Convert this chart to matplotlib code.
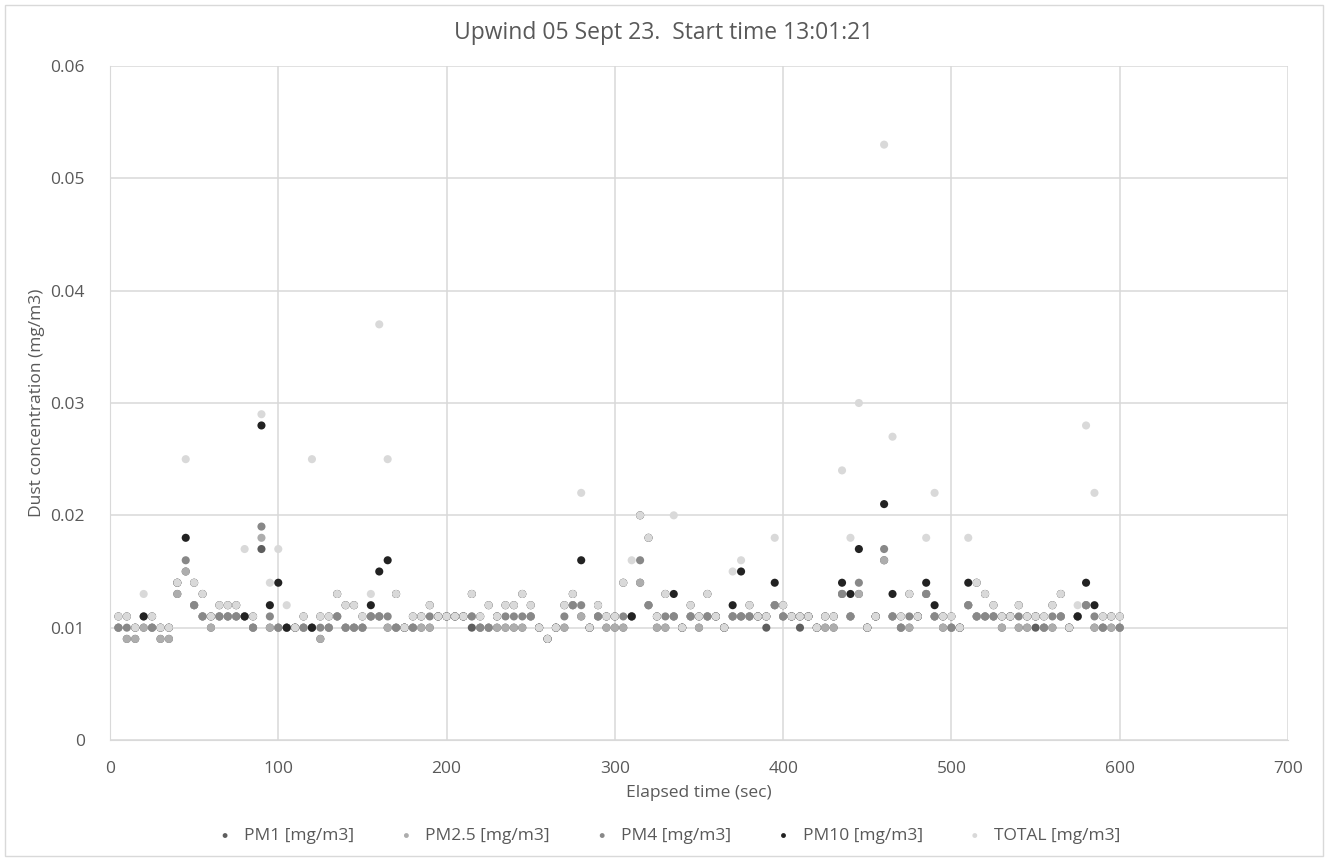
import matplotlib.pyplot as plt
from matplotlib.patches import Rectangle
from matplotlib.ticker import FuncFormatter

plt.rcParams['font.family'] = ['Open Sans', 'DejaVu Sans']

# Elapsed time (sec), one reading every 5 s
elapsed = [5, 10, 15, 20, 25, 30, 35, 40, 45, 50, 55, 60, 65, 70, 75, 80, 85, 90, 95, 100,
           105, 110, 115, 120, 125, 130, 135, 140, 145, 150, 155, 160, 165, 170, 175, 180, 185, 190, 195, 200,
           205, 210, 215, 220, 225, 230, 235, 240, 245, 250, 255, 260, 265, 270, 275, 280, 285, 290, 295, 300,
           305, 310, 315, 320, 325, 330, 335, 340, 345, 350, 355, 360, 365, 370, 375, 380, 385, 390, 395, 400,
           405, 410, 415, 420, 425, 430, 435, 440, 445, 450, 455, 460, 465, 470, 475, 480, 485, 490, 495, 500,
           505, 510, 515, 520, 525, 530, 535, 540, 545, 550, 555, 560, 565, 570, 575, 580, 585, 590, 595, 600]

# readings in ug/m3, converted to mg/m3 below
pm1_ug = [10, 9, 9, 10, 10, 9, 9, 13, 15, 12, 11, 10, 11, 11, 11, 11, 10, 17, 10, 10,
          10, 10, 10, 10, 9, 10, 11, 10, 10, 10, 11, 11, 10, 10, 10, 10, 10, 10, 11, 11,
          11, 11, 10, 10, 10, 10, 10, 10, 10, 11, 10, 9, 10, 10, 12, 11, 10, 11, 10, 10,
          10, 11, 14, 12, 10, 10, 11, 10, 11, 10, 11, 11, 10, 11, 11, 11, 11, 10, 12, 11,
          11, 10, 11, 10, 10, 10, 13, 11, 13, 10, 11, 16, 11, 10, 10, 11, 13, 11, 10, 10,
          10, 12, 11, 11, 11, 10, 11, 10, 10, 10, 10, 10, 11, 10, 11, 12, 10, 10, 10, 10]
pm25_ug = [10, 9, 9, 10, 10, 9, 9, 13, 15, 12, 11, 10, 11, 11, 11, 11, 10, 18, 10, 10,
           10, 10, 10, 10, 9, 10, 11, 10, 10, 10, 11, 11, 10, 10, 10, 10, 10, 10, 11, 11,
           11, 11, 11, 10, 10, 10, 10, 10, 10, 11, 10, 9, 10, 10, 12, 11, 10, 11, 10, 10,
           10, 11, 14, 12, 10, 10, 11, 10, 11, 10, 11, 11, 10, 11, 11, 11, 11, 11, 12, 11,
           11, 11, 11, 10, 10, 10, 13, 11, 13, 10, 11, 16, 11, 10, 10, 11, 13, 11, 10, 10,
           10, 12, 11, 11, 11, 10, 11, 10, 10, 11, 10, 10, 11, 10, 11, 12, 10, 10, 10, 10]
pm4_ug = [10, 10, 10, 11, 10, 10, 10, 14, 16, 12, 11, 11, 11, 11, 11, 11, 10, 19, 11, 10,
          10, 10, 10, 10, 10, 10, 11, 10, 10, 10, 11, 11, 11, 10, 10, 10, 11, 11, 11, 11,
          11, 11, 11, 10, 10, 11, 11, 11, 11, 11, 10, 9, 10, 11, 12, 12, 10, 11, 11, 11,
          11, 11, 16, 12, 11, 11, 11, 10, 11, 11, 11, 11, 10, 11, 11, 11, 11, 11, 12, 11,
          11, 11, 11, 10, 11, 11, 13, 11, 14, 10, 11, 17, 11, 10, 11, 11, 13, 11, 11, 10,
          10, 12, 11, 11, 11, 11, 11, 11, 11, 11, 10, 11, 11, 10, 11, 12, 11, 10, 11, 10]
pm10_ug = [11, 11, 10, 11, 11, 10, 10, 14, 18, 14, 13, 11, 12, 12, 12, 11, 11, 28, 12, 14,
           10, 10, 11, 10, 11, 11, 13, 12, 12, 11, 12, 15, 16, 13, 10, 11, 11, 12, 11, 11,
           11, 11, 13, 11, 12, 11, 12, 12, 13, 12, 10, 9, 10, 12, 13, 16, 10, 12, 11, 11,
           14, 11, 20, 18, 11, 13, 13, 10, 12, 11, 13, 11, 10, 12, 15, 12, 11, 11, 14, 12,
           11, 11, 11, 10, 11, 11, 14, 13, 17, 10, 11, 21, 13, 11, 13, 11, 14, 12, 11, 11,
           10, 14, 14, 13, 12, 11, 11, 12, 11, 11, 11, 12, 13, 10, 11, 14, 12, 11, 11, 11]
total_ug = [11, 11, 10, 13, 11, 10, 10, 14, 25, 14, 13, 11, 12, 12, 12, 17, 11, 29, 14, 17,
            12, 10, 11, 25, 11, 11, 13, 12, 12, 11, 13, 37, 25, 13, 10, 11, 11, 12, 11, 11,
            11, 11, 13, 11, 12, 11, 12, 12, 13, 12, 10, 9, 10, 12, 13, 22, 10, 12, 11, 11,
            14, 16, 20, 18, 11, 13, 20, 10, 12, 11, 13, 11, 10, 15, 16, 12, 11, 11, 18, 12,
            11, 11, 11, 10, 11, 11, 24, 18, 30, 10, 11, 53, 27, 11, 13, 11, 18, 22, 11, 11,
            10, 18, 14, 13, 12, 11, 11, 12, 11, 11, 11, 12, 13, 10, 12, 28, 22, 11, 11, 11]

series_names = ['PM1 [mg/m3]', 'PM2.5 [mg/m3]', 'PM4 [mg/m3]', 'PM10 [mg/m3]', 'TOTAL [mg/m3]']
series_vals = [pm1_ug, pm25_ug, pm4_ug, pm10_ug, total_ug]
colors = ['#5e5e5e', '#adadad', '#888888', '#222222', '#d9d9d9']

text_col = '#595959'
grid_col = '#d9d9d9'

fig = plt.figure(figsize=(13.28, 8.61), dpi=100)
ax = fig.add_axes([110 / 1328, 1 - 740 / 861, 1178 / 1328, 674 / 861])

for name, vals, c in zip(series_names, series_vals, colors):
    ax.scatter(elapsed, [v / 1000 for v in vals], s=34, color=c, edgecolors='none',
               label=name, zorder=3)

ax.set_xlim(0, 700)
ax.set_ylim(0, 0.06)
ax.set_xticks(range(0, 701, 100))
ax.set_yticks([0, 0.01, 0.02, 0.03, 0.04, 0.05, 0.06])
ax.yaxis.set_major_formatter(FuncFormatter(lambda v, p: '%g' % round(v, 2)))
ax.grid(True, color=grid_col, linewidth=1.1)
ax.set_axisbelow(True)
for s in ['top', 'right']:
    ax.spines[s].set_visible(False)
ax.spines['left'].set_color(grid_col)
ax.spines['bottom'].set_color(grid_col)
ax.tick_params(axis='x', length=0, labelsize=12.5, colors=text_col, pad=15)
ax.tick_params(axis='y', length=0, labelsize=12.5, colors=text_col, pad=18)

# title is centred on the whole figure, not on the plot area
fig.text(0.5, 1 - 33 / 861, 'Upwind 05 Sept 23.  Start time 13:01:21', fontsize=16.5,
         color=text_col, ha='center', va='center')
ax.set_xlabel('Elapsed time (sec)', fontsize=12.5, color=text_col, labelpad=6)
ax.set_ylabel('Dust concentration (mg/m3)', fontsize=12.5, color=text_col, labelpad=4)

leg = fig.legend(loc='center', bbox_to_anchor=(0.5, 1 - 836 / 861), ncol=5, frameon=False,
                 fontsize=12.5, markerscale=0.6, handletextpad=0.1, columnspacing=2.0)
for t in leg.get_texts():
    t.set_color(text_col)

fig.patches.append(Rectangle((5 / 1328, 5 / 861), 1318 / 1328, 851 / 861, transform=fig.transFigure,
                             fill=False, edgecolor='#d9d9d9', linewidth=1))

fig.savefig('out.png', dpi=100)
